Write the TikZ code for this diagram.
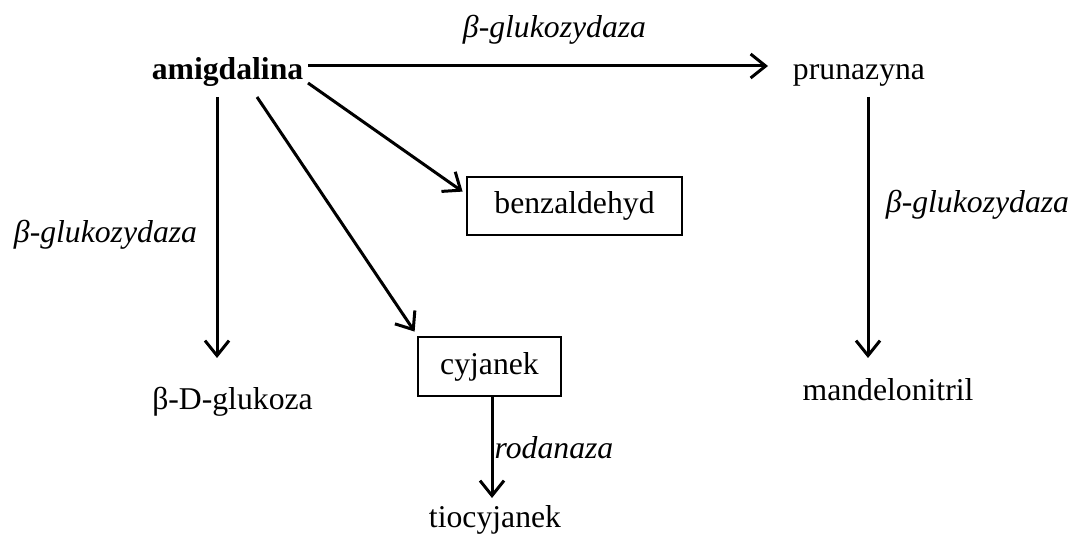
\documentclass[tikz,border=0pt]{standalone}
\usepackage{fontspec}
\setmainfont{Liberation Serif}
\usetikzlibrary{arrows.meta}
\tikzset{
  txt/.style={inner sep=0pt, anchor=base, font=\fontsize{31.7}{38}\selectfont},
  lbl/.style={txt, font=\fontsize{31.7}{38}\selectfont\itshape},
  boxed/.style={draw, line width=2.8pt, inner sep=0pt, font=\fontsize{31.7}{38}\selectfont},
  arr/.style={line width=3pt, -{Straight Barb[length=15pt,width=24pt,line width=3pt]}}
}
\begin{document}
\begin{tikzpicture}[x=1pt,y=-1pt]
\useasboundingbox (0,0) rectangle (1074,534);
% nodes
\node[txt, font=\fontsize{31.7}{38}\selectfont\bfseries] (amig) at (227.5,80) {amigdalina};
\node[txt] (prun) at (859,80) {prunazyna};
\node[txt] (gluk) at (232.5,410) {β-D-glukoza};
\node[txt] (mand) at (888,401) {mandelonitril};
\node[txt] (tio) at (495,527) {tiocyjanek};
\node[boxed, minimum width=215pt, minimum height=58pt] (benz) at (574.5,206) {benzaldehyd};
\node[boxed, minimum width=143pt, minimum height=59pt] (cyj) at (489.5,366.5) {cyjanek};
% labels
\node[lbl] (l1) at (554.5,38) {β-glukozydaza};
\node[lbl] (l2) at (105.5,243) {β-glukozydaza};
\node[lbl] (l3) at (977.5,213) {β-glukozydaza};
\node[lbl] (l4) at (554,458) {rodanaza};
% connectors
\draw[arr] ([shift={(80.5,-14)}]amig.base) -- ([shift={(-91,-14)}]prun.base);
\draw[arr] ([shift={(-10.5,17)}]amig.base) -- ([shift={(-15.5,-52)}]gluk.base);
\draw[arr] ([shift={(29.5,17)}]amig.base) -- ([shift={(-2,-4)}]cyj.north west);
\draw[arr] ([shift={(80.5,3)}]amig.base) -- ([shift={(-3,16)}]benz.north west);
\draw[arr] ([shift={(9,17)}]prun.base) -- ([shift={(-20,-43)}]mand.base);
\draw[arr] ([shift={(2.5,0)}]cyj.south) -- ([shift={(-3,-29)}]tio.base);
\end{tikzpicture}
\end{document}
